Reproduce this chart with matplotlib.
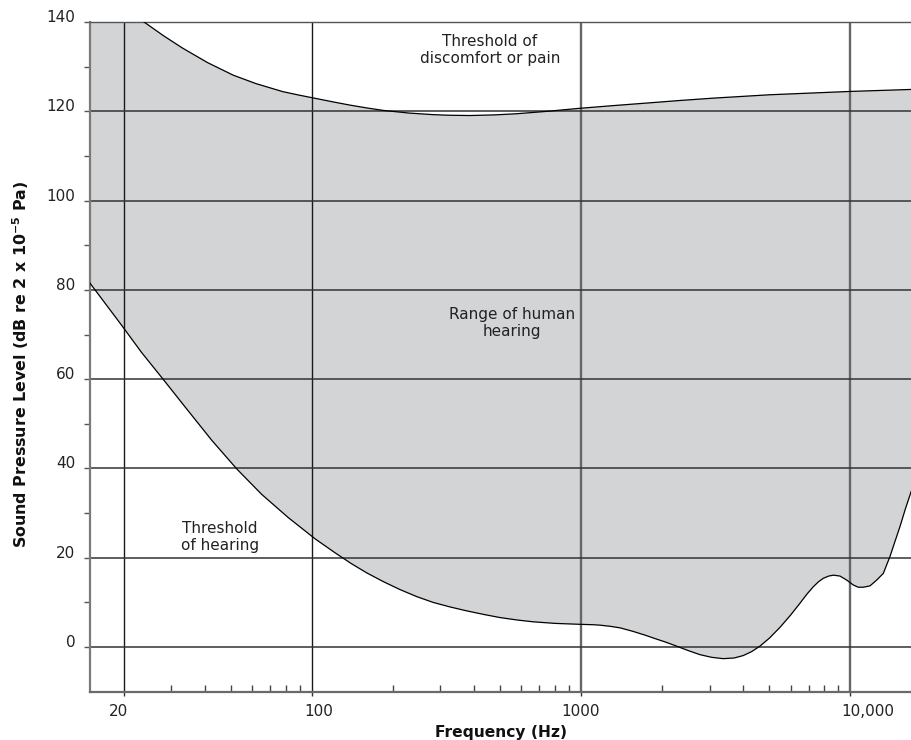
import numpy as np
import matplotlib
matplotlib.use("Agg")
import matplotlib.pyplot as plt
from matplotlib.ticker import LogLocator, NullFormatter
from matplotlib.transforms import ScaledTranslation

# threshold of hearing (Hz, dB)
freq_lower = [15, 19.7, 23.3, 28.1, 33.8, 42.5, 52.6, 65.1, 81.7, 103, 122,
              140, 160, 185, 212, 245, 282, 325, 376, 435, 500, 580, 664, 800,
              980, 1110, 1175, 1280, 1395, 1560, 1720, 1880, 2060, 2262, 2500,
              2760, 3050, 3370, 3700, 4000, 4300, 4610, 5000, 5470, 6000, 6490,
              6900, 7275, 7600, 7925, 8300, 8640, 9140, 9680, 10240, 10690,
              11160, 11815, 12510, 13240, 14020, 14600, 15270, 16000, 16900]
db_lower = [81.5, 72.0, 66.0, 59.9, 53.8, 46.3, 39.9, 34.2, 29.0, 24.2, 21.1,
            18.7, 16.6, 14.6, 12.9, 11.3, 10.0, 9.0, 8.1, 7.3, 6.6, 6.05, 5.65,
            5.3, 5.1, 5.0, 4.9, 4.65, 4.3, 3.5, 2.7, 1.9, 1.1, 0.2, -0.8, -1.7,
            -2.3, -2.6, -2.45, -1.9, -1.0, 0.2, 2.0, 4.4, 7.2, 9.8, 11.9, 13.5,
            14.6, 15.4, 15.9, 16.1, 15.9, 15.0, 13.9, 13.4, 13.4, 13.7, 15.0,
            16.5, 20.3, 23.5, 27.0, 31.0, 35.3]

# threshold of discomfort or pain (Hz, dB)
freq_upper = [15, 20, 23.3, 25, 28, 33, 41, 51, 62, 78, 90, 103, 120, 138, 160,
              184, 230, 282, 320, 386, 480, 576, 750, 980, 1300, 1800, 2300,
              3100, 5000, 10000, 16900]
db_upper = [149.0, 143.3, 140.4, 139.1, 137.0, 134.2, 130.9, 128.1, 126.2,
            124.4, 123.6, 122.9, 122.1, 121.4, 120.75, 120.2, 119.6, 119.25,
            119.12, 119.05, 119.2, 119.45, 120.0, 120.65, 121.25, 121.9, 122.4,
            122.95, 123.7, 124.45, 124.9]

x_ticks = [20, 100, 1000, 10000]
x_tick_labels = ["20", "100", "1000", "10,000"]
y_ticks = [0, 20, 40, 60, 80, 100, 120, 140]
y_minor_ticks = [10, 30, 50, 70, 90, 110, 130]

fig = plt.figure(figsize=(9.12, 7.40), dpi=100)
ax = fig.add_axes([90 / 912, 48.3 / 740, 822 / 912, 669.7 / 740])
ax.set_xscale("log")
ax.set_xlim(15.0, 16920)
ax.set_ylim(-10, 140)

# shaded band between the two thresholds
ax.fill(np.r_[freq_lower, freq_upper[::-1]], np.r_[db_lower, db_upper[::-1]],
        color="#d3d4d6", lw=0, zorder=1)
ax.plot(freq_lower, db_lower, color="black", lw=0.9, zorder=3)
ax.plot(freq_upper, db_upper, color="black", lw=0.9, zorder=3)

ax.set_xticks(x_ticks)
ax.set_xticklabels(x_tick_labels)
ax.xaxis.set_minor_locator(LogLocator(base=10, subs=np.arange(2, 10)))
ax.xaxis.set_minor_formatter(NullFormatter())
ax.set_yticks(y_ticks)
ax.set_yticklabels([str(v) for v in y_ticks])
ax.set_yticks(y_minor_ticks, minor=True)

ax.grid(True, which="major", axis="y", color="#333333", lw=1.1)
ax.grid(True, which="major", axis="x", color="#1a1a1a", lw=1.0)
for line, tick in zip(ax.xaxis.get_gridlines(), x_ticks):
    if tick >= 1000:
        line.set_color("#666666")
        line.set_linewidth(1.7)

ax.tick_params(axis="x", which="major", direction="out", length=3, width=1,
               color="#333333", pad=6, labelsize=11, labelcolor="#222222")
ax.tick_params(axis="x", which="minor", direction="in", length=5, width=1,
               color="#444444")
ax.tick_params(axis="y", which="both", direction="out", length=4, width=1,
               color="#555555", pad=6.5, labelsize=11, labelcolor="#222222")

# small hand-placed label offsets as in the original figure
x_offsets = [-4.7, 7, -1, 17.5]
for lab, dx in zip(ax.get_xticklabels(), x_offsets):
    lab.set_transform(lab.get_transform() + ScaledTranslation(dx / 100, 0, fig.dpi_scale_trans))
for lab in ax.get_yticklabels():
    lab.set_transform(lab.get_transform() + ScaledTranslation(0, 6 / 100, fig.dpi_scale_trans))

ax.spines["right"].set_visible(False)
ax.spines["top"].set_color("#555555")
ax.spines["top"].set_linewidth(1.0)
ax.spines["left"].set_color("#7a7a7a")
ax.spines["left"].set_linewidth(1.6)
ax.spines["bottom"].set_color("#6a6a6a")
ax.spines["bottom"].set_linewidth(1.6)

ax.set_xlabel("Frequency (Hz)", fontsize=11.2, fontweight="bold", color="#111111")
ax.xaxis.set_label_coords(0.5, -0.0497)
ax.xaxis.label.set_verticalalignment("top")
ax.set_ylabel(r"Sound Pressure Level (dB re 2 x 10$^{\mathbf{-5}}$ Pa)",
              fontsize=11.4, fontweight="bold", color="#111111")
ax.yaxis.set_label_coords(-0.0718, 0.4886)

ax.text(458, 133.7, "Threshold of\ndiscomfort or pain", ha="center", va="center",
        fontsize=11, color="#222222", linespacing=1.15)
ax.text(555, 72.5, "Range of human\nhearing", ha="center", va="center",
        fontsize=11, color="#222222", linespacing=1.15)
ax.text(45.6, 24.6, "Threshold\nof hearing", ha="center", va="center",
        fontsize=11, color="#222222", linespacing=1.15)

fig.savefig("out.png", dpi=100)
